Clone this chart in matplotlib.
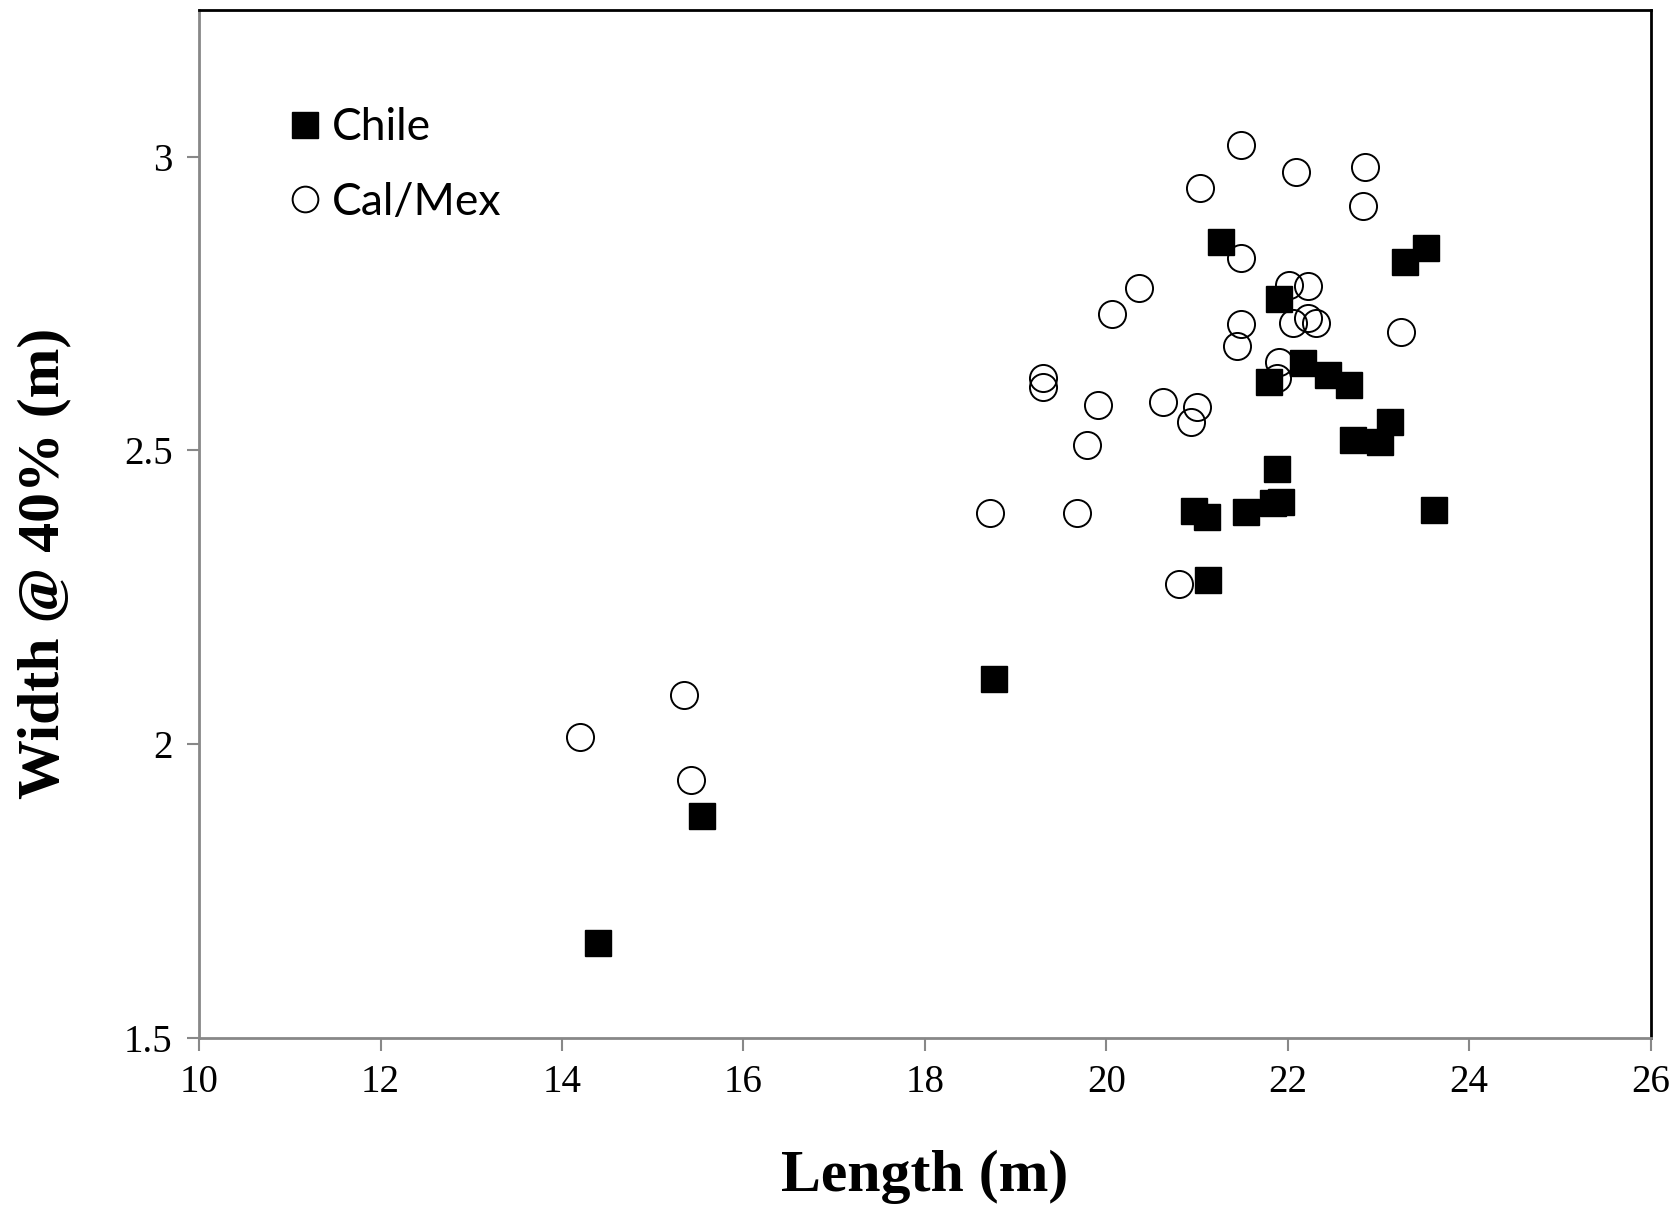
import matplotlib.pyplot as plt

# Chile (filled squares)
chile_len = [21.26, 23.52, 23.29, 21.90, 22.17, 22.44, 22.68, 21.79, 23.13, 22.72,
             23.02, 21.88, 23.61, 21.54, 20.97, 21.11, 21.84, 21.93, 21.12, 18.76,
             15.54, 14.40]
chile_wid = [2.854, 2.845, 2.821, 2.758, 2.648, 2.629, 2.611, 2.617, 2.548, 2.517,
             2.514, 2.469, 2.399, 2.396, 2.397, 2.387, 2.411, 2.412, 2.280, 2.111,
             1.878, 1.661]

# Cal/Mex (open circles)
calmex_len = [21.48, 22.09, 22.85, 21.03, 22.83, 21.48, 20.36, 20.06, 22.01, 22.22,
              21.48, 22.06, 22.22, 22.31, 23.25, 21.44, 21.90, 21.88, 19.30, 19.30,
              19.91, 20.62, 21.00, 20.93, 19.79, 18.72, 19.68, 20.80, 14.20, 15.34,
              15.42]
calmex_wid = [3.020, 2.974, 2.983, 2.946, 2.916, 2.827, 2.776, 2.733, 2.782, 2.779,
              2.716, 2.717, 2.726, 2.717, 2.702, 2.678, 2.651, 2.623, 2.623, 2.608,
              2.577, 2.583, 2.574, 2.549, 2.510, 2.394, 2.394, 2.272, 2.013, 2.083,
              1.940]

xticks = [10, 12, 14, 16, 18, 20, 22, 24, 26]
yticks = [1.5, 2, 2.5, 3]
ytick_labels = ["1.5", "2", "2.5", "3"]

fig = plt.figure(figsize=(16.73, 12.13), dpi=100)
ax = fig.add_axes([0.119, 0.1442, 0.8676, 0.8478])

ax.plot(calmex_len, calmex_wid, 'o', ms=19.5, mfc='none', mec='black', mew=1.4,
        linestyle='none', label='Cal/Mex', zorder=2)
ax.plot(chile_len, chile_wid, 's', ms=19, mfc='black', mec='black',
        linestyle='none', label='Chile', zorder=3)

ax.set_xlim(10, 26)
ax.set_ylim(1.5, 3.25)
ax.set_xticks(xticks)
ax.set_xticklabels([str(t) for t in xticks])
ax.set_yticks(yticks)
ax.set_yticklabels(ytick_labels)

# axes look
for s in ['left', 'bottom']:
    ax.spines[s].set_color('#888888')
    ax.spines[s].set_linewidth(2)
for s in ['top', 'right']:
    ax.spines[s].set_color('black')
    ax.spines[s].set_linewidth(2)
ax.tick_params(direction='out', length=9, width=1.5, color='#888888', pad=10)
for lab in ax.get_xticklabels() + ax.get_yticklabels():
    lab.set_fontfamily('Liberation Serif')
    lab.set_fontsize(28)

ax.set_xlabel('Length (m)', fontfamily='Liberation Serif', fontweight='bold',
              fontsize=43, labelpad=35)
ax.set_ylabel('Width @ 40% (m)', fontfamily='Liberation Serif', fontweight='bold',
              fontsize=43)
ax.yaxis.set_label_coords(-0.088, 0.462)

handles, labels = ax.get_legend_handles_labels()
leg = ax.legend(handles[::-1], labels[::-1], loc='upper left',
                bbox_to_anchor=(0.033, 0.944), frameon=False,
                prop={'family': 'Lato', 'size': 32}, handletextpad=0.2,
                handlelength=0.8, labelspacing=0.75, markerscale=0.95)

fig.savefig('out.png', dpi=100)
